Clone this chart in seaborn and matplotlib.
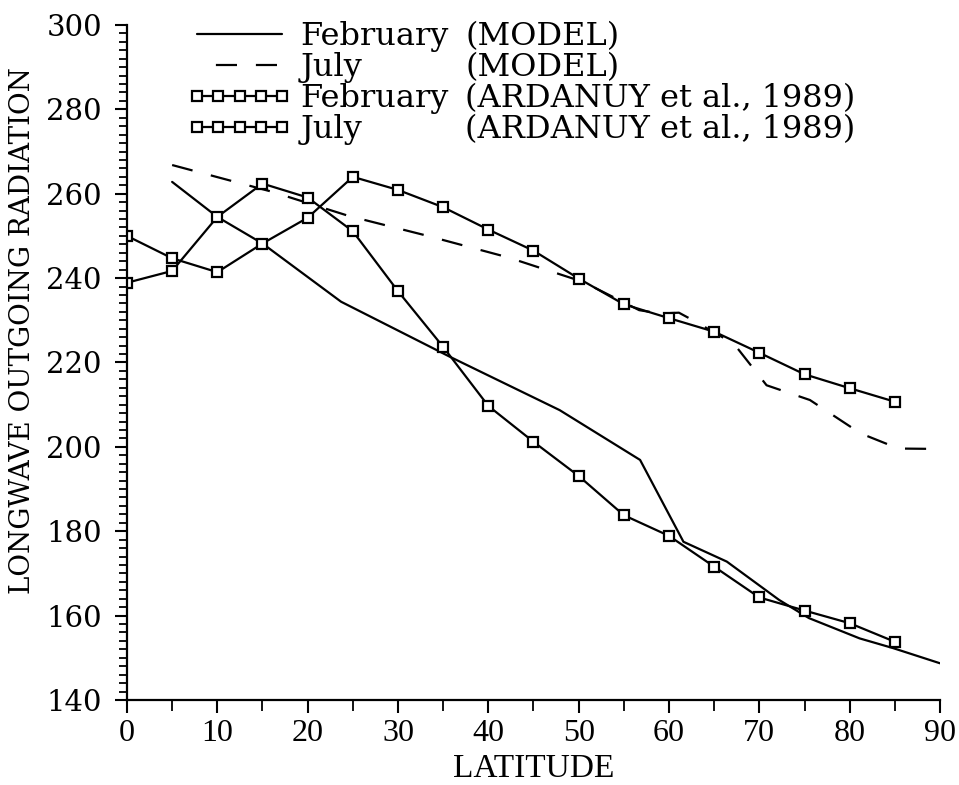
import matplotlib
matplotlib.use("Agg")
import matplotlib.pyplot as plt
import pandas as pd
import seaborn as sns
from matplotlib.lines import Line2D
from matplotlib.ticker import MultipleLocator

# Zonal-mean outgoing longwave radiation, northern hemisphere
obs_lat = [0, 5, 10, 15, 20, 25, 30, 35, 40, 45, 50, 55, 60, 65, 70, 75, 80, 85]
obs_feb = [238.9, 241.7, 254.5, 262.4, 259.1, 251.1, 236.9, 223.7, 209.7,
           201.2, 193.1, 183.8, 178.9, 171.6, 164.3, 161.2, 158.2, 153.8]
obs_jul = [250.0, 244.7, 241.4, 248.2, 254.3, 264.0, 260.9, 256.8, 251.5,
           246.5, 239.9, 233.8, 230.5, 227.3, 222.3, 217.2, 213.9, 210.7]

model_feb_lat = [5, 10, 15, 23.7, 35.7, 47.9, 56.8, 61.6, 66.4, 72.2, 75.5,
                 81.1, 84.8, 90]
model_feb = [262.8, 254.5, 248.2, 234.4, 221.4, 208.7, 196.9, 177.5, 172.8,
             163.7, 159.4, 154.6, 152.3, 148.7]

model_jul_lat = [5, 16, 24.6, 33.3, 42.2, 50.5, 56.7, 59, 61.1, 63, 67.2,
                 70.8, 75.6, 81.2, 85.4, 90]
model_jul = [266.8, 260.5, 254.7, 250.0, 244.9, 239.1, 232.4, 231.6, 231.8,
             229.6, 224.4, 214.6, 211.1, 203.2, 199.6, 199.5]

month_names = ["February", "July", "February", "July"]
sources = ["(MODEL)", "(MODEL)", "(ARDANUY et al., 1989)",
           "(ARDANUY et al., 1989)"]

sns.set_style("ticks")
plt.rcParams["font.family"] = ["DejaVu Serif"]
for key in ("text.color", "axes.labelcolor", "xtick.color", "ytick.color",
            "axes.edgecolor"):
    plt.rcParams[key] = "black"

fig = plt.figure(figsize=(9.59, 7.85), dpi=100)
ax = fig.add_axes([0.1324, 0.1083, 0.8478, 0.8599])

lw = 1.6
dash = (9.5, 8.5)
sns.lineplot(x=model_feb_lat, y=model_feb, ax=ax, color="black", lw=lw,
             sort=False)
sns.lineplot(x=model_jul_lat, y=model_jul, ax=ax, color="black", lw=lw,
             linestyle=(0, dash), sort=False)
mk = dict(marker="s", markersize=6.5, markerfacecolor="white",
          markeredgecolor="black", markeredgewidth=1.6)
sns.lineplot(x=obs_lat, y=obs_feb, ax=ax, color="black", lw=lw, **mk)
sns.lineplot(x=obs_lat, y=obs_jul, ax=ax, color="black", lw=lw, **mk)

ax.set_xlim(0, 90)
ax.set_ylim(140, 300)
ax.xaxis.set_major_locator(MultipleLocator(10))
ax.xaxis.set_minor_locator(MultipleLocator(5))
ax.yaxis.set_major_locator(MultipleLocator(20))
ax.yaxis.set_minor_locator(MultipleLocator(2))
for s in ("top", "right"):
    ax.spines[s].set_visible(False)
for s in ("left", "bottom"):
    ax.spines[s].set_linewidth(1.6)
ax.tick_params(axis="y", which="major", direction="out", length=9, width=1.5,
               pad=9, labelsize=21)
ax.tick_params(axis="y", which="minor", direction="out", length=6, width=1.3)
ax.tick_params(axis="x", which="major", direction="out", length=9, width=1.5,
               pad=5)
ax.tick_params(axis="x", which="minor", direction="out", length=8, width=1.3)
for lab in ax.get_xticklabels():
    lab.set_fontfamily("Liberation Serif")
    lab.set_fontsize(23)

ax.set_xlabel("LATITUDE", fontfamily="Liberation Serif", fontsize=24,
              labelpad=4)
ax.set_ylabel("")
fig.text(23 / 959, 1 - 330 / 785, "LONGWAVE OUTGOING RADIATION",
         rotation=90, ha="center", va="center", fontsize=20)

# Legend keys: the dashed key starts on a gap
lines = ax.lines[:4]
july_key = Line2D([], [], color="black", lw=lw, linestyle=(dash[0], dash))
handles = [lines[0], july_key, lines[2], lines[3]]
leg1 = ax.legend(handles, month_names, loc="upper left",
                 bbox_to_anchor=(187.5 / 959, 1 - 21 / 785),
                 bbox_transform=fig.transFigure, frameon=False, fontsize=23,
                 numpoints=5, handlelength=3.27, handletextpad=0.26,
                 labelspacing=0.0, borderpad=0, borderaxespad=0)
ax.add_artist(leg1)
blank = [Line2D([], [], linestyle="none") for _ in sources]
ax.legend(blank, sources, loc="upper left",
          bbox_to_anchor=(465 / 959, 1 - 21 / 785),
          bbox_transform=fig.transFigure, frameon=False, fontsize=23,
          handlelength=0, handletextpad=0, labelspacing=0.0,
          borderpad=0, borderaxespad=0)

fig.savefig("out.png", dpi=100, facecolor="white")
